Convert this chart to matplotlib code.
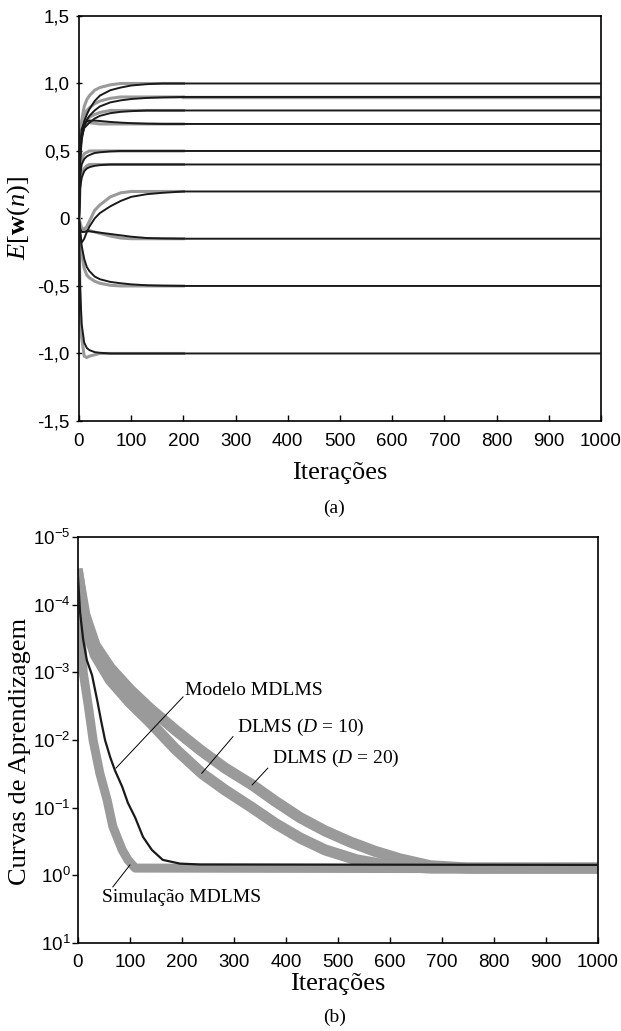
import numpy as np
import matplotlib.pyplot as plt

plt.rcParams['font.family'] = ['Liberation Sans', 'DejaVu Sans']
plt.rcParams['mathtext.fontset'] = 'custom'
plt.rcParams['mathtext.rm'] = 'Liberation Serif'
plt.rcParams['mathtext.it'] = 'Liberation Serif:italic'
plt.rcParams['mathtext.bf'] = 'Liberation Serif:bold'
plt.rcParams['mathtext.sf'] = 'Liberation Sans'

SERIF = 'Liberation Serif'
GRAY = '#9a9a9a'
BLACK = '#1a1a1a'

# ---- (a) mean weights ----
n_model = [0, 2, 5, 10, 15, 20, 30, 40, 60, 80, 100, 130, 160, 200, 300, 1000]
model_w = {
    '1.0':   [0, 0.45, 0.62, 0.72, 0.77, 0.81, 0.87, 0.91, 0.95, 0.97, 0.985, 0.995, 1.0, 1.0, 1.0, 1.0],
    '0.9':   [0, 0.40, 0.58, 0.68, 0.73, 0.76, 0.80, 0.83, 0.86, 0.875, 0.885, 0.893, 0.897, 0.9, 0.9, 0.9],
    '0.8':   [0, 0.42, 0.60, 0.67, 0.69, 0.71, 0.74, 0.76, 0.78, 0.79, 0.795, 0.8, 0.8, 0.8, 0.8, 0.8],
    '0.7':   [0, 0.50, 0.66, 0.71, 0.72, 0.725, 0.725, 0.722, 0.715, 0.71, 0.706, 0.702, 0.70, 0.70, 0.70, 0.70],
    '0.5':   [0, 0.30, 0.40, 0.44, 0.46, 0.47, 0.485, 0.49, 0.497, 0.5, 0.5, 0.5, 0.5, 0.5, 0.5, 0.5],
    '0.4':   [0, 0.22, 0.30, 0.35, 0.37, 0.38, 0.39, 0.395, 0.4, 0.4, 0.4, 0.4, 0.4, 0.4, 0.4, 0.4],
    '0.2':   [0, -0.10, -0.18, -0.15, -0.10, -0.06, 0.0, 0.04, 0.09, 0.13, 0.16, 0.18, 0.19, 0.2, 0.2, 0.2],
    '-0.15': [0, -0.07, -0.10, -0.10, -0.095, -0.095, -0.10, -0.105, -0.115, -0.125, -0.135, -0.145, -0.148, -0.15, -0.15, -0.15],
    '-0.5':  [0, -0.10, -0.20, -0.30, -0.36, -0.39, -0.43, -0.45, -0.47, -0.48, -0.488, -0.495, -0.498, -0.5, -0.5, -0.5],
    '-1.0':  [0, -0.50, -0.78, -0.92, -0.96, -0.975, -0.99, -0.995, -1.0, -1.0, -1.0, -1.0, -1.0, -1.0, -1.0, -1.0],
}
n_sim = [0, 2, 5, 10, 15, 20, 30, 40, 60, 80, 100, 130, 160, 200]
sim_w = {
    '1.0':   [0, 0.55, 0.72, 0.83, 0.88, 0.91, 0.95, 0.97, 0.99, 1.0, 1.0, 1.0, 1.0, 1.0],
    '0.9':   [0, 0.50, 0.68, 0.76, 0.80, 0.82, 0.85, 0.87, 0.89, 0.9, 0.9, 0.9, 0.9, 0.9],
    '0.8':   [0, 0.50, 0.66, 0.71, 0.73, 0.75, 0.77, 0.785, 0.8, 0.8, 0.8, 0.8, 0.8, 0.8],
    '0.7':   [0, 0.55, 0.68, 0.71, 0.71, 0.71, 0.705, 0.70, 0.70, 0.70, 0.70, 0.70, 0.70, 0.70],
    '0.5':   [0, 0.35, 0.44, 0.48, 0.49, 0.5, 0.5, 0.5, 0.5, 0.5, 0.5, 0.5, 0.5, 0.5],
    '0.4':   [0, 0.25, 0.33, 0.37, 0.39, 0.4, 0.4, 0.4, 0.4, 0.4, 0.4, 0.4, 0.4, 0.4],
    '0.2':   [0, -0.03, -0.07, -0.08, -0.06, -0.02, 0.06, 0.10, 0.16, 0.19, 0.2, 0.2, 0.2, 0.2],
    '-0.15': [0, -0.06, -0.08, -0.09, -0.09, -0.09, -0.10, -0.11, -0.13, -0.145, -0.15, -0.15, -0.15, -0.15],
    '-0.5':  [0, -0.15, -0.26, -0.37, -0.42, -0.44, -0.465, -0.48, -0.495, -0.5, -0.5, -0.5, -0.5, -0.5],
    '-1.0':  [0, -0.60, -0.88, -1.02, -1.03, -1.02, -1.01, -1.0, -1.0, -1.0, -1.0, -1.0, -1.0, -1.0],
}
# the 0.9 simulation stays visible as a gray fuzz to the end
n_sim_09_tail = [200, 1000]
sim_09_tail = [0.9, 0.9]

yticks_a = [-1.5, -1.0, -0.5, 0, 0.5, 1.0, 1.5]
ylabels_a = ['-1,5', '-1,0', '-0,5', '0', '0,5', '1,0', '1,5']
xticks = [0, 100, 200, 300, 400, 500, 600, 700, 800, 900, 1000]

# ---- (b) learning curves ----
n_dlms20 = [0, 13, 33, 62, 100, 138, 187, 235, 283, 335, 379, 427, 475, 523, 571, 619, 677, 750, 1000]
dlms20 = [3.6e-5, 1.4e-4, 4.0e-4, 8.6e-4, 1.8e-3, 3.4e-3, 7.1e-3, 1.4e-2, 2.6e-2, 4.6e-2,
          0.08, 0.14, 0.22, 0.32, 0.44, 0.57, 0.72, 0.78, 0.78]
n_dlms10 = [0, 13, 33, 62, 100, 138, 187, 238, 283, 335, 379, 427, 475, 536, 600, 680, 1000]
dlms10 = [3.6e-5, 1.8e-4, 5.5e-4, 1.3e-3, 2.8e-3, 5.4e-3, 1.35e-2, 3.1e-2, 5.5e-2, 0.10,
          0.17, 0.28, 0.42, 0.59, 0.72, 0.78, 0.78]
n_mdlms_sim = [0, 4, 10, 21, 29, 42, 56, 67, 85, 96, 110, 1000]
mdlms_sim = [3.4e-5, 1.2e-4, 1.0e-3, 3.6e-3, 1.0e-2, 3.1e-2, 7.7e-2, 0.19, 0.42, 0.59, 0.78, 0.80]
n_mdlms_model = [0, 4, 10, 17, 27, 37, 44, 52, 62, 71, 85, 96, 110, 125, 142, 163, 196, 235, 1000]
mdlms_model = [3.9e-5, 1.3e-4, 3.3e-4, 6.6e-4, 1.1e-3, 2.6e-3, 5.0e-3, 1.0e-2, 1.8e-2, 2.8e-2,
               4.9e-2, 8.5e-2, 0.14, 0.27, 0.42, 0.59, 0.67, 0.69, 0.70]

yticks_b = [1e-5, 1e-4, 1e-3, 1e-2, 1e-1, 1e0, 1e1]
ylabels_b = [r'$\mathsf{10^{-5}}$', r'$\mathsf{10^{-4}}$', r'$\mathsf{10^{-3}}$', r'$\mathsf{10^{-2}}$',
             r'$\mathsf{10^{-1}}$', r'$\mathsf{10^{0}}$', r'$\mathsf{10^{1}}$']

fig = plt.figure(figsize=(6.21, 10.31), dpi=100)
ax1 = fig.add_axes([0.1272, 0.5917, 0.8406, 0.3928])
ax2 = fig.add_axes([0.1256, 0.0853, 0.8374, 0.3938])

# panel (a)
for key in sim_w:
    ax1.plot(n_sim, sim_w[key], color=GRAY, lw=2.2, zorder=2)
ax1.plot(n_sim_09_tail, sim_09_tail, color=GRAY, lw=2.4, zorder=2)
for key in model_w:
    ax1.plot(n_model, model_w[key], color=BLACK, lw=1.4, zorder=3)

ax1.set_xlim(0, 1000)
ax1.set_ylim(-1.5, 1.5)
ax1.set_xticks(xticks)
ax1.set_yticks(yticks_a, ylabels_a)
ax1.tick_params(axis='x', direction='in', length=4, width=1, labelsize=13.5, pad=9)
ax1.tick_params(axis='y', direction='inout', length=5, width=1, labelsize=13.5, pad=4)
ax1.set_xlabel('Iterações', family=SERIF, size=19, labelpad=8)
ax1.set_ylabel(r'$E[\mathbf{w}(n)]$', size=19)
ax1.yaxis.set_label_coords(-0.09, 0.5)

# panel (b)
ax2.plot(n_dlms20, dlms20, color=GRAY, lw=8, solid_joinstyle='round', zorder=2)
ax2.plot(n_dlms10, dlms10, color=GRAY, lw=8, solid_joinstyle='round', zorder=2)
ax2.plot(n_mdlms_sim, mdlms_sim, color=GRAY, lw=6.5, solid_joinstyle='round', zorder=2)
ax2.plot(n_mdlms_model, mdlms_model, color=BLACK, lw=1.6, zorder=3)

ax2.set_yscale('log')
ax2.set_xlim(0, 1000)
ax2.set_ylim(1e1, 1e-5)
ax2.set_xticks(xticks)
ax2.set_yticks(yticks_b, ylabels_b)
ax2.minorticks_off()
ax2.tick_params(axis='x', direction='in', length=4, width=1, labelsize=13.5, pad=8)
ax2.tick_params(axis='y', direction='out', length=4, width=1, labelsize=13.5, pad=1.5)
ax2.set_xlabel('Iterações', family=SERIF, size=19, labelpad=1)
ax2.set_ylabel('Curvas de Aprendizagem', family=SERIF, size=19)
ax2.yaxis.set_label_coords(-0.09, 0.473)

# annotations with leader lines
ax2.text(206, 1.88e-3, 'Modelo MDLMS', family=SERIF, size=14, va='center', ha='left')
ax2.plot([202, 73], [2.3e-3, 0.026], color='k', lw=0.7, zorder=4)
ax2.text(306, 6.6e-3, r'DLMS ($D$ = 10)', family=SERIF, size=14, va='center', ha='left')
ax2.plot([298, 238], [8.9e-3, 0.031], color='k', lw=0.7, zorder=4)
ax2.text(373, 0.019, r'DLMS ($D$ = 20)', family=SERIF, size=14, va='center', ha='left')
ax2.plot([365, 335], [0.026, 0.046], color='k', lw=0.7, zorder=4)
ax2.text(46, 2.09, 'Simulação MDLMS', family=SERIF, size=14, va='center', ha='left')
ax2.plot([67, 100], [1.48, 0.70], color='k', lw=0.7, zorder=4)

for ax in (ax1, ax2):
    for sp in ax.spines.values():
        sp.set_linewidth(1.2)

fig.text(0.538, 1 - 508 / 1031, '(a)', ha='center', va='center', family=SERIF, size=14)
fig.text(0.538, 1 - 1017 / 1031, '(b)', ha='center', va='center', family=SERIF, size=14)

fig.savefig('out.png', dpi=100)
